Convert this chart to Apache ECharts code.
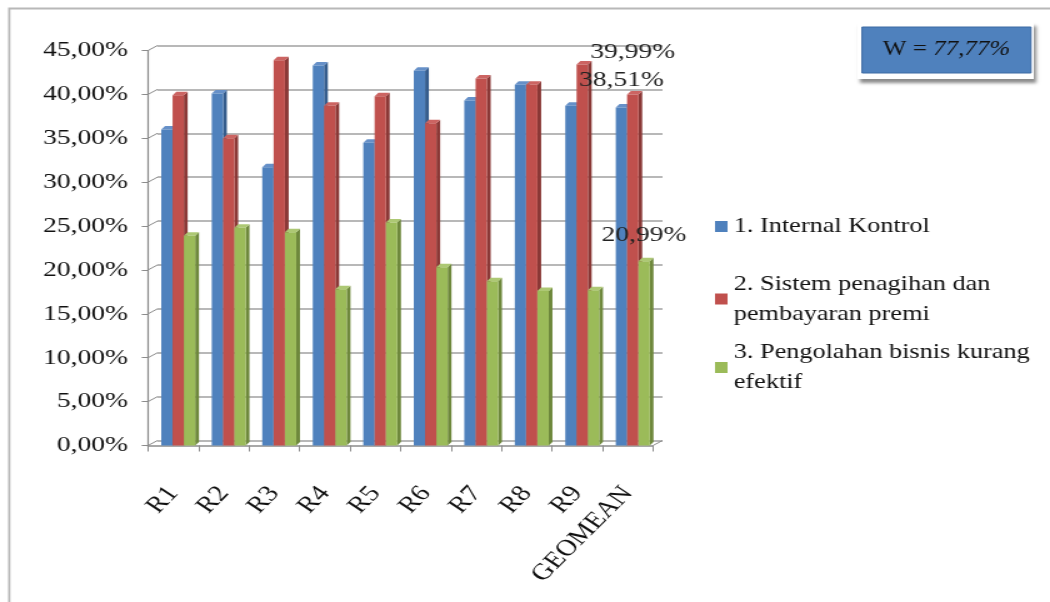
<!DOCTYPE html>
<html>
<head>
<meta charset="utf-8">
<script src="https://cdn.jsdelivr.net/npm/echarts@6/dist/echarts.min.js"></script>
<style>
  html, body { margin: 0; padding: 0; background: #fff; overflow: hidden; }
  /* the chart is laid out on an 840px-wide canvas and widened to the 1050px window */
  #chart { width: 840px; height: 602px; transform: scaleX(1.25); transform-origin: 0 0; }
</style>
</head>
<body>
<div id="chart"></div>
<script>
// ---- data ----
const categories = ['R1', 'R2', 'R3', 'R4', 'R5', 'R6', 'R7', 'R8', 'R9', 'GEOMEAN'];
const internalKontrol = [36.0, 40.1, 31.7, 43.3, 34.5, 42.7, 39.3, 41.1, 38.7, 38.51];
const sistemPenagihan = [39.9, 35.0, 43.9, 38.7, 39.8, 36.7, 41.8, 41.1, 43.4, 39.99];
const pengolahanBisnis = [23.9, 24.8, 24.3, 17.8, 25.4, 20.3, 18.7, 17.6, 17.7, 20.99];
const seriesNames = [
  '1. Internal Kontrol',
  '2. Sistem penagihan dan\npembayaran premi',
  '3. Pengolahan bisnis kurang\nefektif'
];
const yMin = 0, yMax = 45, yStep = 5;
const wLabel = 'W = ', wValue = '77,77%';

// ---- styling ----
const FONT = "'Liberation Serif', 'Times New Roman', serif";
const TEXT = '#111';
const AXIS = '#8c8c8c';
const GRID_LINE = '#a0a0a0';
const faces = [
  { front: '#4f81bd', side: '#355c8c', top: '#6690c8' },
  { front: '#c0504d', side: '#8a3836', top: '#cc6462' },
  { front: '#9bbb59', side: '#6e883c', top: '#adc874' }
];
const BAR_FRACTION = 0.224;   // bar width as share of a category band
const BAR_SHIFT = 0.099;      // bars sit slightly behind the front edge
const DEPTH_X = 3, DEPTH_Y = -3.5;      // visible depth of each column
const WALL_X = 7.6, WALL_Y = -5;        // depth between front axes and back wall
const labelLift = [27, 42, 26];         // value label distance above its column
const lastIndex = categories.length - 1;

const pct = v => v.toFixed(2).replace('.', ',') + '%';

function columnRenderer(face, lift) {
  return function (params, api) {
    const idx = api.value(0);
    const val = api.value(1);
    const base = api.coord([idx, 0]);
    const top = api.coord([idx, val]);
    const band = api.size([1, 0])[0];
    const w = band * BAR_FRACTION;
    const x = base[0] + band * BAR_SHIFT + (params.seriesIndex - 1.5) * w;
    const yt = top[1], yb = base[1];
    const children = [
      { type: 'polygon', shape: { points: [[x + w, yt], [x + w + DEPTH_X, yt + DEPTH_Y], [x + w + DEPTH_X, yb + DEPTH_Y], [x + w, yb]] },
        style: { fill: face.side } },
      { type: 'polygon', shape: { points: [[x, yt], [x + DEPTH_X, yt + DEPTH_Y], [x + w + DEPTH_X, yt + DEPTH_Y], [x + w, yt]] },
        style: { fill: face.top } },
      { type: 'rect', shape: { x: x, y: yt, width: w, height: yb - yt }, style: { fill: face.front } }
    ];
    if (idx === lastIndex) {
      children.push({
        type: 'text', z2: 100,
        x: x + w / 2, y: yt - lift,
        style: { text: pct(val), fill: '#222', font: '22px ' + FONT, align: 'center', verticalAlign: 'middle' }
      });
    }
    return { type: 'group', children: children };
  };
}

function wallRenderer(params, api) {
  const cs = params.coordSys;
  const v = api.value(1);
  const y = api.coord([0, v])[1];
  const lines = [{ type: 'line', shape: { x1: cs.x, y1: y, x2: cs.x + WALL_X, y2: y + WALL_Y },
    style: { stroke: AXIS, lineWidth: 1 } }];
  if (v === yMin) {
    lines.push({ type: 'line', shape: { x1: cs.x + cs.width, y1: y, x2: cs.x + cs.width + WALL_X, y2: y + WALL_Y },
      style: { stroke: AXIS, lineWidth: 1 } });
  }
  return { type: 'group', children: lines };
}

const wallTicks = [];
for (let v = yMin; v <= yMax; v += yStep) wallTicks.push([0, v]);

const valueSets = [internalKontrol, sistemPenagihan, pengolahanBisnis];
const columnSeries = valueSets.map((vals, i) => ({
  type: 'custom',
  name: seriesNames[i],
  xAxisIndex: 1, yAxisIndex: 1,
  itemStyle: { color: faces[i].front },
  renderItem: columnRenderer(faces[i], labelLift[i]),
  data: vals.map((v, k) => [k, v])
}));

const legendTops = [211.5, 254, 322.5];
const legends = seriesNames.map((name, i) => ({
  data: [name],
  left: 572, top: legendTops[i],
  orient: 'vertical', icon: 'rect',
  itemWidth: 10, itemHeight: 11, padding: 0,
  selectedMode: false,
  textStyle: {
    fontFamily: FONT, fontSize: 21, lineHeight: 30, color: TEXT,
    padding: name.indexOf('\n') >= 0 ? [30, 0, 0, 0] : 0
  }
}));

const chart = echarts.init(document.getElementById('chart'), null, { renderer: 'canvas' });
chart.setOption({
  animation: false,
  backgroundColor: '#fff',
  grid: [
    { left: 126, top: 45.5, width: 404, height: 395 },    // back wall
    { left: 118.4, top: 50.5, width: 404, height: 395 }   // front axes
  ],
  xAxis: [
    { gridIndex: 0, type: 'category', data: categories, show: false },
    {
      gridIndex: 1, type: 'category', data: categories,
      axisLine: { lineStyle: { color: AXIS, width: 1.5 } },
      axisTick: { show: true, length: 6, interval: 0, lineStyle: { color: AXIS } },
      axisLabel: {
        interval: 0, rotate: 51, margin: 44,
        fontFamily: FONT, fontSize: 23, color: TEXT
      }
    }
  ],
  yAxis: [
    {
      gridIndex: 0, type: 'value', min: yMin, max: yMax, interval: yStep,
      axisLine: { show: false }, axisTick: { show: false }, axisLabel: { show: false },
      splitLine: { show: true, lineStyle: { color: GRID_LINE, width: 1.7 } }
    },
    {
      gridIndex: 1, type: 'value', min: yMin, max: yMax, interval: yStep,
      axisLine: { show: true, lineStyle: { color: AXIS, width: 1.2 } },
      axisTick: { show: true, length: 5, lineStyle: { color: AXIS } },
      splitLine: { show: false },
      axisLabel: { formatter: pct, margin: 16, fontFamily: FONT, fontSize: 22, color: TEXT }
    }
  ],
  legend: legends,
  series: columnSeries.concat([{
    type: 'custom', name: 'wall', silent: true,
    xAxisIndex: 1, yAxisIndex: 1,
    renderItem: wallRenderer,
    data: wallTicks
  }]),
  graphic: [
    { type: 'polyline', silent: true,
      shape: { points: [[7.4, 602], [7.4, 8.5], [840, 8.5]] },
      style: { stroke: '#b8b8b8', fill: null, lineWidth: 1.8 } },
    { type: 'rect', silent: true,
      shape: { x: 686, y: 22, width: 141, height: 57 },
      style: { fill: '#fff', shadowBlur: 3, shadowOffsetX: 2, shadowOffsetY: 4, shadowColor: 'rgba(0,0,0,0.45)' } },
    { type: 'rect', silent: true,
      shape: { x: 689.6, y: 27, width: 135.2, height: 46 },
      style: { fill: '#4f81bd', stroke: '#3d6aa3', lineWidth: 1 } },
    { type: 'text', silent: true, x: 757.2, y: 50,
      style: {
        text: '{n|' + wLabel + '}{i|' + wValue + '}',
        align: 'center', verticalAlign: 'middle',
        rich: {
          n: { fontFamily: FONT, fontSize: 20, fill: '#111' },
          i: { fontFamily: FONT, fontSize: 20, fontStyle: 'italic', fill: '#111' }
        }
      } }
  ]
});
</script>
</body>
</html>
